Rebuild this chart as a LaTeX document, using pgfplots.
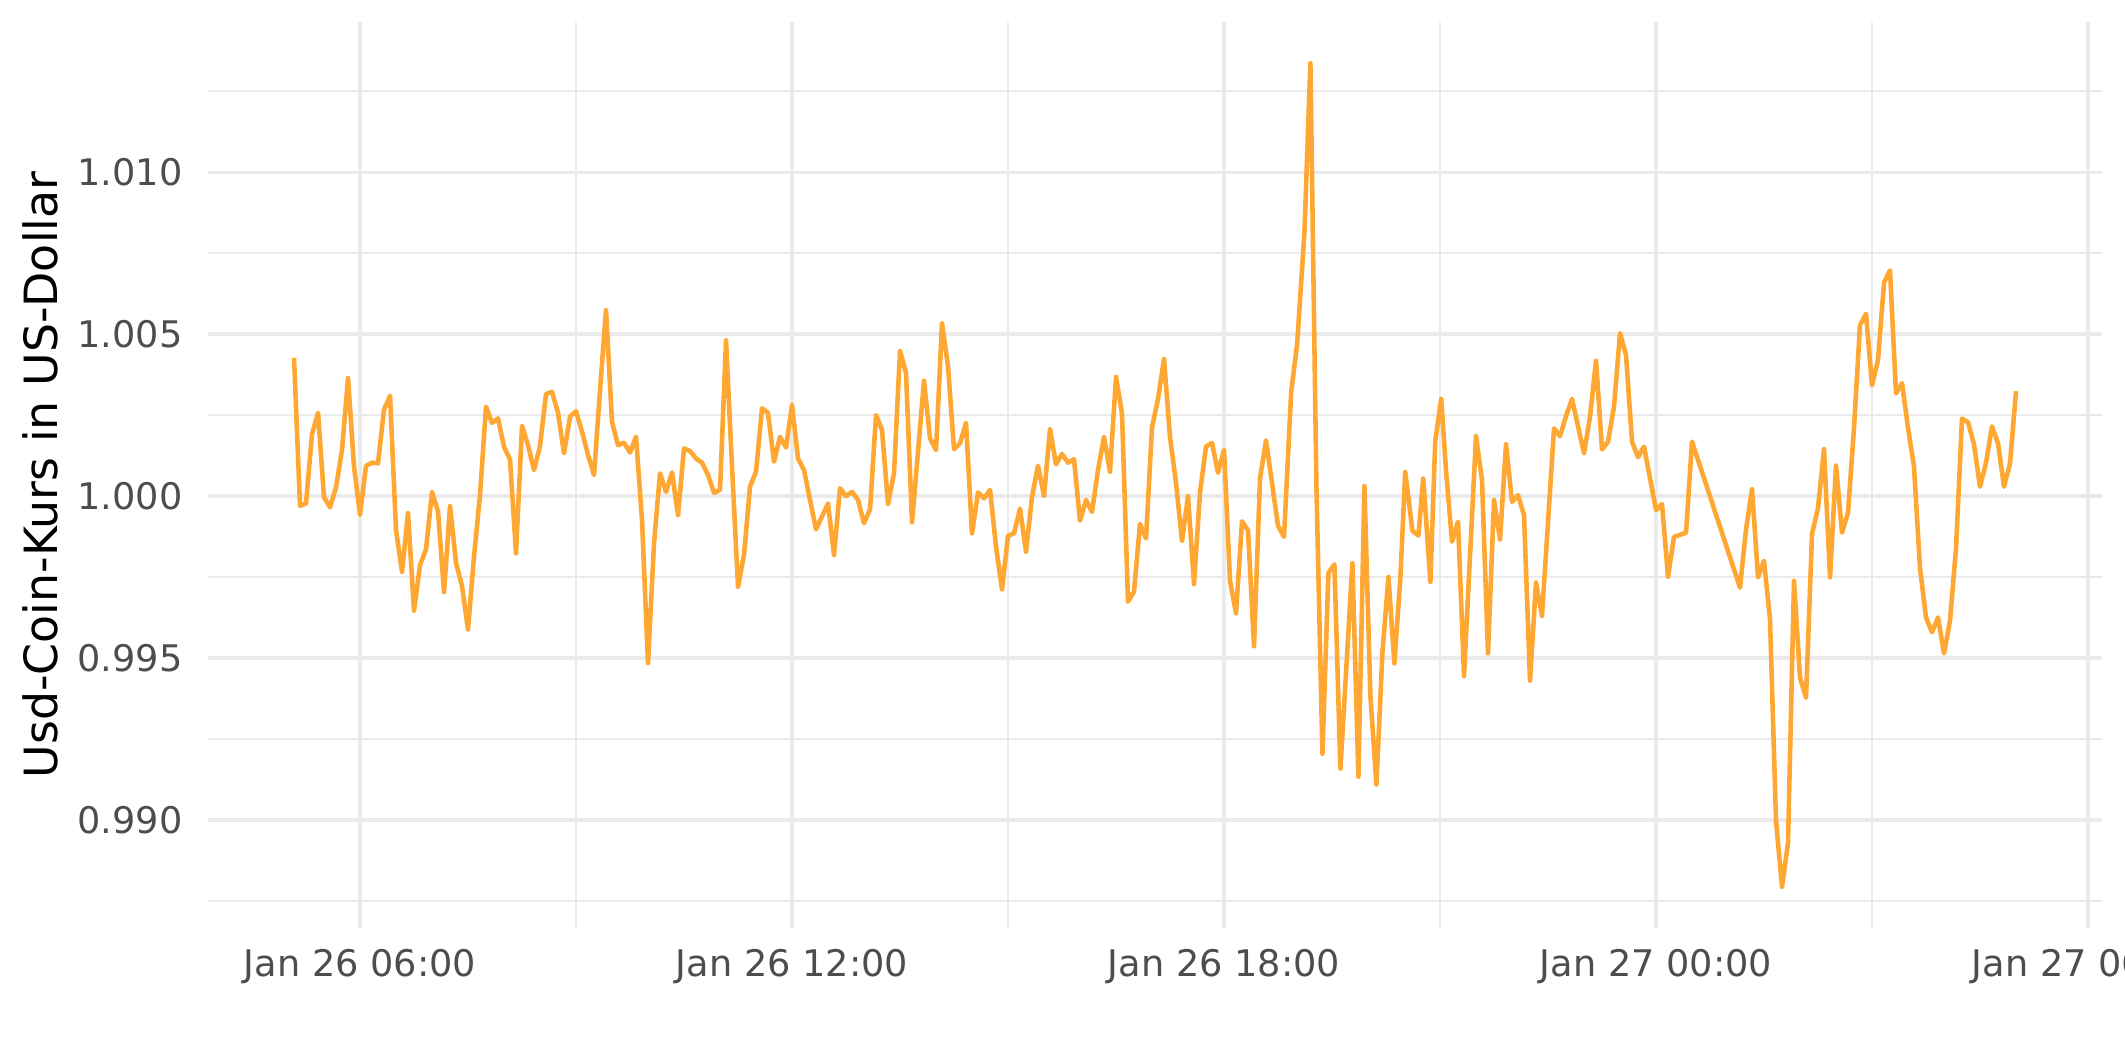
\documentclass[border=0pt]{standalone}
\usepackage{fontspec}
\setmainfont{DejaVu Sans}
\usepackage{pgfplots}
\pgfplotsset{compat=1.18}
\definecolor{linecol}{RGB}{255,167,51}
\definecolor{gridcol}{RGB}{235,235,235}
\definecolor{labcol}{RGB}{77,77,77}
\begin{document}
\begin{tikzpicture}
\useasboundingbox (-49.9pt,-32.2pt) rectangle (460.1pt,222.7pt);
\begin{axis}[
  at={(0,0)}, anchor=south west,
  scale only axis, width=454.6pt, height=217.4pt,
  xmin=233.25, xmax=1811.75, ymin=0.98666, ymax=1.01464,
  axis line style={draw=none},
  major tick length=0pt, minor tick length=0pt,
  xtick={360,720,1080,1440,1800},
  xticklabels={Jan 26 06:00,Jan 26 12:00,Jan 26 18:00,Jan 27 00:00,Jan 27 06:00},
  minor xtick={540,900,1260,1620},
  ytick={0.99,0.995,1,1.005,1.01},
  yticklabels={0.990,0.995,1.000,1.005,1.010},
  minor ytick={0.9875,0.9925,0.9975,1.0025,1.0075,1.0125},
  grid=both,
  major grid style={gridcol, line width=0.85pt},
  minor grid style={gridcol, line width=0.45pt},
  xticklabel style={font=\fontsize{8.8}{10}\selectfont, text=labcol, anchor=north, inner sep=0pt, yshift=-5pt},
  yticklabel style={font=\fontsize{8.8}{10}\selectfont, text=labcol, anchor=east, inner sep=0pt, xshift=-5.9pt},
  /pgf/number format/assume math mode=true,
  ylabel={Usd-Coin-Kurs in US-Dollar},
  ylabel style={font=\fontsize{11}{13}\selectfont, at={(axis description cs:-0.0882,0.5)}, anchor=center},
]
\addplot[linecol, line width=1.1pt, mark=none, line join=round] table {
m v
305 1.00427
310 0.99970
315 0.99977
320 1.00191
325 1.00257
330 0.99996
335 0.99965
340 1.00027
345 1.00142
350 1.00365
355 1.00091
360 0.99943
365 1.00093
370 1.00103
375 1.00101
380 1.00267
385 1.00310
390 0.99895
395 0.99766
400 0.99947
405 0.99646
410 0.99787
415 0.99835
420 1.00013
425 0.99952
430 0.99703
435 0.99969
440 0.99794
445 0.99722
450 0.99588
455 0.99813
460 1.00003
465 1.00276
470 1.00226
475 1.00240
480 1.00152
485 1.00113
490 0.99823
495 1.00217
500 1.00157
505 1.00080
510 1.00155
515 1.00315
520 1.00322
525 1.00257
530 1.00132
535 1.00245
540 1.00262
545 1.00199
550 1.00127
555 1.00065
560 1.00327
565 1.00574
570 1.00229
575 1.00157
580 1.00165
585 1.00134
590 1.00183
595 0.99926
600 0.99484
605 0.99854
610 1.00070
615 1.00013
620 1.00073
625 0.99941
630 1.00147
635 1.00139
640 1.00116
645 1.00103
650 1.00065
655 1.00010
660 1.00019
665 1.00481
670 1.00091
675 0.99720
680 0.99818
685 1.00029
690 1.00075
695 1.00271
700 1.00257
705 1.00106
710 1.00183
715 1.00150
720 1.00281
725 1.00116
730 1.00080
735 0.99988
740 0.99897
745 0.99937
750 0.99977
755 0.99818
760 1.00024
765 1.00000
770 1.00013
775 0.99988
780 0.99916
785 0.99959
790 1.00250
795 1.00204
800 0.99975
805 1.00070
810 1.00449
815 1.00379
820 0.99919
825 1.00137
830 1.00356
835 1.00178
840 1.00142
845 1.00533
850 1.00401
855 1.00145
860 1.00163
865 1.00226
870 0.99885
875 1.00011
880 0.99993
885 1.00019
890 0.99844
895 0.99712
900 0.99877
905 0.99885
910 0.99961
915 0.99828
920 0.99998
925 1.00094
930 1.00000
935 1.00207
940 1.00098
945 1.00130
950 1.00103
955 1.00114
960 0.99924
965 0.99988
970 0.99951
975 1.00080
980 1.00183
985 1.00075
990 1.00368
995 1.00255
1000 0.99674
1005 0.99705
1010 0.99914
1015 0.99869
1020 1.00212
1025 1.00300
1030 1.00423
1035 1.00182
1040 1.00040
1045 0.99862
1050 1.00000
1055 0.99728
1060 1.00011
1065 1.00153
1070 1.00164
1075 1.00072
1080 1.00143
1085 0.99738
1090 0.99638
1095 0.99922
1100 0.99894
1105 0.99536
1110 1.00054
1115 1.00172
1120 1.00040
1125 0.99908
1130 0.99874
1136 1.00323
1141 1.00472
1147 1.00813
1152 1.01337
1157 1.00030
1162 0.99204
1167 0.99762
1172 0.99789
1177 0.99158
1182 0.99475
1187 0.99793
1192 0.99133
1197 1.00031
1202 0.99383
1207 0.99109
1212 0.99515
1217 0.99750
1222 0.99483
1227 0.99750
1231 1.00074
1237 0.99893
1242 0.99878
1246 1.00054
1252 0.99735
1256 1.00170
1261 1.00300
1265 1.00080
1270 0.99859
1275 0.99921
1280 0.99444
1285 0.99815
1290 1.00185
1295 1.00049
1300 0.99514
1305 0.99988
1310 0.99866
1315 1.00160
1320 0.99982
1325 1.00003
1330 0.99941
1335 0.99430
1340 0.99733
1345 0.99630
1350 0.99920
1355 1.00209
1360 1.00185
1365 1.00247
1370 1.00300
1375 1.00216
1380 1.00132
1385 1.00245
1390 1.00418
1395 1.00144
1400 1.00168
1405 1.00276
1410 1.00503
1415 1.00436
1420 1.00168
1425 1.00120
1430 1.00153
1435 1.00055
1440 0.99957
1445 0.99975
1450 0.99751
1455 0.99874
1460 0.99880
1465 0.99887
1470 1.00168
1510 0.99717
1515 0.99897
1520 1.00021
1525 0.99749
1530 0.99800
1535 0.99618
1540 0.98997
1545 0.98793
1550 0.98928
1555 0.99738
1560 0.99439
1565 0.99377
1570 0.99883
1575 0.99963
1580 1.00145
1585 0.99749
1590 1.00094
1595 0.99887
1600 0.99949
1605 1.00211
1610 1.00528
1615 1.00563
1620 1.00342
1625 1.00421
1630 1.00659
1635 1.00697
1640 1.00317
1645 1.00349
1650 1.00211
1655 1.00090
1660 0.99777
1665 0.99625
1670 0.99579
1675 0.99625
1680 0.99514
1685 0.99615
1690 0.99839
1695 1.00239
1700 1.00228
1705 1.00159
1710 1.00029
1715 1.00103
1720 1.00215
1725 1.00163
1730 1.00029
1735 1.00101
1740 1.00324
};
\end{axis}
\end{tikzpicture}
\end{document}
